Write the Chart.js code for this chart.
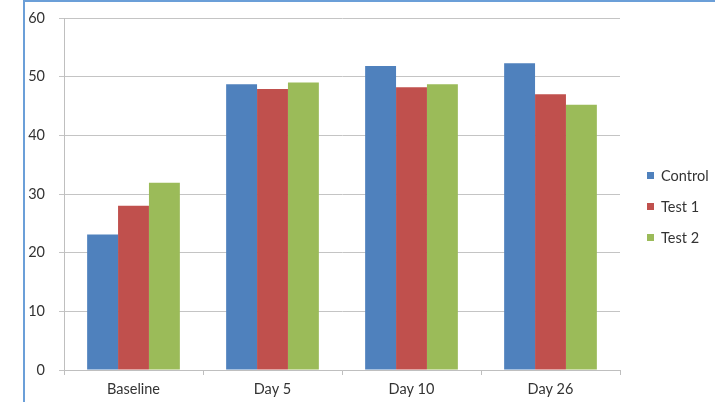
<!DOCTYPE html>
<html>
<head>
<meta charset="utf-8">
<script src="https://cdn.jsdelivr.net/npm/chart.js@4/dist/chart.umd.min.js"></script>
<style>
  html, body { margin: 0; padding: 0; background: #ffffff; }
  #wrap { position: relative; width: 715px; height: 402px; overflow: hidden; background: #fff; }
  #c { position: absolute; left: 0; top: 0; }
  #frame { position: absolute; left: 23px; top: 0; width: 700px; height: 410px;
           border-left: 2px solid #6b9fd8; border-top: 2px solid #6b9fd8; pointer-events: none; }
</style>
</head>
<body>
<div id="wrap">
  <canvas id="c" width="715" height="402"></canvas>
  <div id="frame"></div>
</div>
<script>
const categories = ["Baseline", "Day 5", "Day 10", "Day 26"];
const seriesNames = ["Control", "Test 1", "Test 2"];
const controlValues = [23.1, 48.7, 51.8, 52.3];
const test1Values = [28.0, 47.9, 48.2, 47.0];
const test2Values = [31.9, 49.0, 48.7, 45.2];
const yTicks = [0, 10, 20, 30, 40, 50, 60];

const colors = ["#4f81bd", "#c0504d", "#9bbb59"];
const FONT = "Lato, 'Liberation Sans', sans-serif";

const legendPlugin = {
  id: 'customLegend',
  afterDraw(chart) {
    const ctx = chart.ctx;
    ctx.save();
    ctx.font = "14.5px " + FONT;
    ctx.textBaseline = "middle";
    chart.data.datasets.forEach((ds, i) => {
      const y = 175 + i * 31;
      ctx.fillStyle = ds.backgroundColor;
      ctx.fillRect(647, y - 3, 7, 7);
      ctx.fillStyle = "#333333";
      ctx.fillText(ds.label, 661, y + 1);
    });
    ctx.restore();
  }
};

new Chart(document.getElementById('c'), {
  type: 'bar',
  data: {
    labels: categories,
    datasets: [
      { label: seriesNames[0], data: controlValues, backgroundColor: colors[0] },
      { label: seriesNames[1], data: test1Values, backgroundColor: colors[1] },
      { label: seriesNames[2], data: test2Values, backgroundColor: colors[2] }
    ]
  },
  options: {
    responsive: false,
    animation: false,
    events: [],
    layout: { padding: { left: 0, top: 18, right: 95, bottom: 0 } },
    datasets: { bar: { categoryPercentage: 0.667, barPercentage: 1.0, borderWidth: 0 } },
    plugins: { legend: { display: false }, tooltip: { enabled: false } },
    scales: {
      x: {
        grid: { display: true, drawOnChartArea: false, drawTicks: true, tickLength: 5, color: "#bfbfbf", offset: true },
        border: { display: true, color: "#bfbfbf", width: 1 },
        ticks: { color: "#333333", font: { family: FONT, size: 14.5 }, padding: 6 },
        afterFit(scale) { scale.height = 32; }
      },
      y: {
        min: 0, max: 60,
        afterBuildTicks(scale) { scale.ticks = yTicks.map(v => ({ value: v })); },
        grid: { color: "#c4c4c4", drawTicks: true, tickLength: 5, lineWidth: 1 },
        border: { display: true, color: "#bfbfbf", width: 1 },
        ticks: { color: "#333333", font: { family: FONT, size: 14.5 }, padding: 14 },
        afterFit(scale) { scale.width = 64; scale.paddingTop = 0; }
      }
    }
  },
  plugins: [legendPlugin]
});
</script>
</body>
</html>
